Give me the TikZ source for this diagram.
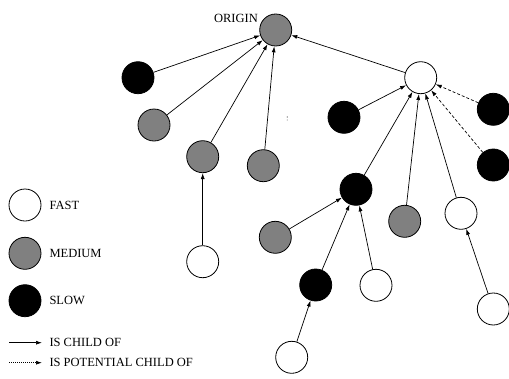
\documentclass[tikz,border=0pt]{standalone}
\usepackage{fontspec}
\setmainfont{Liberation Serif}
\usetikzlibrary{arrows.meta}
\begin{document}
\begin{tikzpicture}[x=1pt,y=-1pt,
  nd/.style={circle,draw=black,line width=0.8pt,minimum size=32pt,inner sep=0pt},
  fast/.style={nd,fill=white},
  medium/.style={nd,fill=black!50},
  slow/.style={nd,fill=black},
  child/.style={draw=black,line width=0.7pt,-{Latex[length=6pt,width=4pt]}},
  potential/.style={child,dash pattern=on 3pt off 2pt},
  lbl/.style={font=\fontsize{12.5}{14}\selectfont,anchor=west,inner sep=0pt}]
\useasboundingbox (0,0) rectangle (509,378);
% main tree
\node[medium] (o) at (275.7,30) {};
\node[lbl,anchor=east] (ol) at (258,18) {ORIGIN};
\node[slow] (a1) at (138,77.7) {};
\node[medium] (a2) at (154,125) {};
\node[medium] (a3) at (202.7,156.7) {};
\node[medium] (a4) at (263.3,165.7) {};
\node[fast] (w) at (420.7,77.7) {};
\node[fast] (a3c) at (202.7,261.7) {};
\node[slow] (b1) at (344,117.3) {};
\node[slow] (b2) at (356,189.3) {};
\node[medium] (b3) at (404.7,221.3) {};
\node[fast] (b4) at (461,213.3) {};
\node[slow] (p1) at (493.3,109.3) {};
\node[slow] (p2) at (493.3,165) {};
\node[medium] (c1) at (275.3,237.3) {};
\node[slow] (c2) at (315.7,285) {};
\node[fast] (c3) at (376,285.3) {};
\node[fast] (d1) at (291.7,357.3) {};
\node[fast] (e1) at (493.3,309) {};
% stray dots
\fill[black!70] (287.3,117) circle (0.6pt);
\fill[black!40] (287.3,120) circle (0.6pt);
% edges
\draw[child] (a1) -- (o);
\draw[child] (a2) -- (o);
\draw[child] (a3) -- (o);
\draw[child] (a4) -- (o);
\draw[child] (w) -- (o);
\draw[child] (a3c) -- (a3);
\draw[child] (b1) -- (w);
\draw[child] (b2) -- (w);
\draw[child] (b3) -- (w);
\draw[child] (b4) -- (w);
\draw[potential] (p1) -- (w);
\draw[potential] (p2) -- (w);
\draw[child] (c1) -- (b2);
\draw[child] (c2) -- (b2);
\draw[child] (c3) -- (b2);
\draw[child] (d1) -- (c2);
\draw[child] (e1) -- (b4);
% legend
\node[fast] (lf) at (25,205) {};
\node[lbl] (lft) at (49.3,205) {FAST};
\node[medium] (lm) at (25,253.3) {};
\node[lbl] (lmt) at (49.3,253.3) {MEDIUM};
\node[slow] (ls) at (25,300.7) {};
\node[lbl] (lst) at (49.3,300.7) {SLOW};
\coordinate (l1a) at (9,342.7);
\coordinate (l1b) at (42,342.7);
\draw[child] (l1a) -- (l1b);
\node[lbl] (l1t) at (49.3,342.7) {IS CHILD OF};
\coordinate (l2a) at (9,362.7);
\coordinate (l2b) at (42,362.7);
\draw[child,dash pattern=on 1pt off 1pt] (l2a) -- (l2b);
\node[lbl] (l2t) at (49.3,362.7) {IS POTENTIAL CHILD OF};
\end{tikzpicture}
\end{document}
